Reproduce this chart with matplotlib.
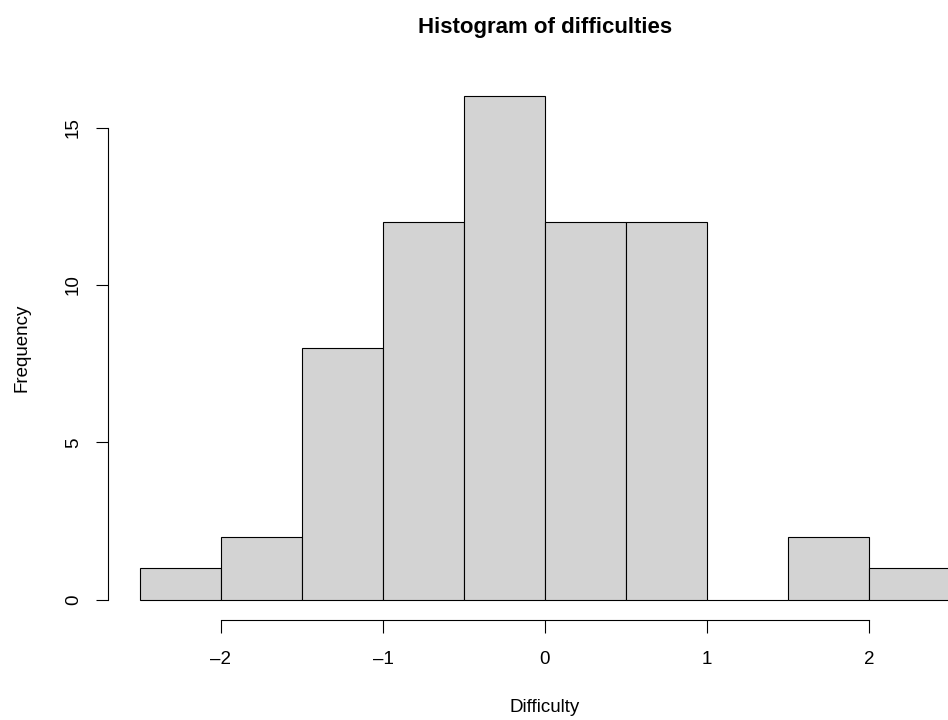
import matplotlib
matplotlib.use("Agg")
import matplotlib.pyplot as plt
import numpy as np

plt.rcParams['font.family'] = ['Liberation Sans', 'DejaVu Sans']

# histogram of difficulties, bins of width 0.5
bin_edges = [-2.5, -2.0, -1.5, -1.0, -0.5, 0.0, 0.5, 1.0, 1.5, 2.0, 2.5]
counts = [1, 2, 8, 12, 16, 12, 12, 0, 2, 1]
x_ticks = [-2, -1, 0, 1, 2]
y_ticks = [0, 5, 10, 15]

W, H = 948, 720
fig = plt.figure(figsize=(W / 100, H / 100), dpi=100)

# R style plot region: 4% padding around the data range, runs past the right edge
left, right, bottom, top = 107.6, 982.4, 620.0, 76.0
ax = fig.add_axes([left / W, (H - bottom) / H, (right - left) / W, (bottom - top) / H])

widths = np.diff(bin_edges)
ax.bar(bin_edges[:-1], counts, width=widths, align='edge',
       color='#d3d3d3', edgecolor='black', linewidth=0.8)

x0, x1 = bin_edges[0], bin_edges[-1]
ax.set_xlim(x0 - 0.04 * (x1 - x0), x1 + 0.04 * (x1 - x0))
ymax = max(counts)
ax.set_ylim(-0.04 * ymax, ymax * 1.04)

for s in ['top', 'right']:
    ax.spines[s].set_visible(False)
ax.spines['left'].set_bounds(y_ticks[0], y_ticks[-1])
ax.spines['bottom'].set_bounds(x_ticks[0], x_ticks[-1])
for s in ['left', 'bottom']:
    ax.spines[s].set_linewidth(0.8)

ax.set_xticks(x_ticks)
ax.set_xticklabels(['\u2013' + str(abs(t)) if t < 0 else str(t) for t in x_ticks])
ax.set_yticks(y_ticks)
ax.set_yticklabels([str(t) for t in y_ticks], rotation=90, va='center')
ax.tick_params(axis='both', length=9, width=0.8, labelsize=13.5)
ax.tick_params(axis='x', pad=13)
ax.tick_params(axis='y', pad=9.5)

fig.text(545 / W, 1 - 28 / H, 'Histogram of difficulties', ha='center', va='center',
         fontsize=16, fontweight='bold')
fig.text(545 / W, 1 - 708 / H, 'Difficulty', ha='center', va='center', fontsize=13.5)
fig.text(22 / W, 1 - 348 / H, 'Frequency', ha='center', va='center', rotation=90,
         fontsize=13.5)

fig.savefig('out.png', dpi=100)
